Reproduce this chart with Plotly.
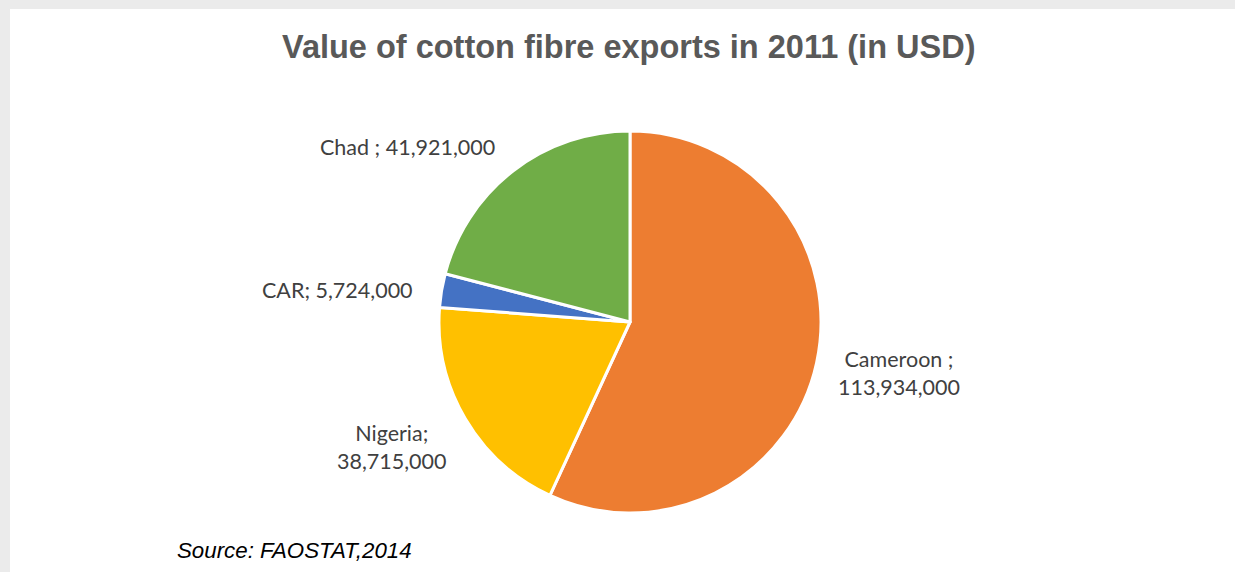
import plotly.graph_objects as go

countries = ["Cameroon", "Nigeria", "CAR", "Chad"]
values = [113934000, 38715000, 5724000, 41921000]
colors = ["#ED7D31", "#FFC000", "#4472C4", "#70AD47"]
label_texts = ["Cameroon ;<br>113,934,000", "Nigeria;<br>38,715,000", "CAR; 5,724,000", "Chad ; 41,921,000"]
label_pos = [(899, 373), (392, 447), (337, 290), (407, 147)]

W, H = 1235, 572

fig = go.Figure()
fig.add_trace(go.Pie(
    labels=countries, values=values, sort=False, direction="clockwise", rotation=0,
    marker=dict(colors=colors, line=dict(color="white", width=3)),
    textinfo="none", hoverinfo="label+value", showlegend=False,
    domain=dict(x=[439 / W, 821 / W], y=[1 - 513 / H, 1 - 131 / H]),
))

shapes = [dict(type="rect", xref="paper", yref="paper", x0=10 / W, x1=1, y0=0, y1=1 - 9 / H,
               fillcolor="white", line=dict(width=0), layer="below")]

ann = []
for t, (x, y) in zip(label_texts, label_pos):
    ann.append(dict(text=t, x=x / W, y=1 - y / H, xref="paper", yref="paper", showarrow=False,
                    xanchor="center", yanchor="middle", align="center",
                    font=dict(family="Lato", size=21.5, color="#404040")))
ann.append(dict(text="<b>Value of cotton fibre exports in 2011 (in USD)</b>", x=628 / W, y=1 - 47 / H,
                xref="paper", yref="paper", showarrow=False, xanchor="center", yanchor="middle",
                font=dict(family="Liberation Sans", size=32.5, color="#595959")))
ann.append(dict(text="<i>Source: FAOSTAT,2014</i>", x=175 / W, y=1 - 550 / H,
                xref="paper", yref="paper", showarrow=False, xanchor="left", yanchor="middle",
                font=dict(family="Liberation Sans", size=22.3, color="#000000")))

fig.update_layout(width=W, height=H, margin=dict(l=0, r=0, t=0, b=0),
                  paper_bgcolor="#EBEBEB", plot_bgcolor="white",
                  shapes=shapes, annotations=ann)
fig.write_html("out.html", config={"displayModeBar": False},
               post_script="document.body.style.margin='0';document.body.style.overflow='hidden';")
